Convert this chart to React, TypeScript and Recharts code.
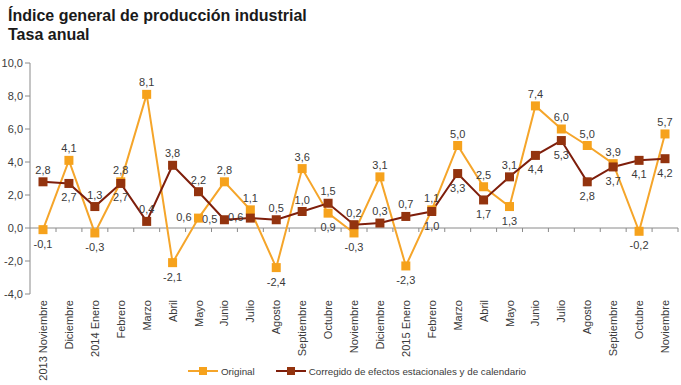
import React from 'react';
import {
  LineChart,
  Line,
  XAxis,
  YAxis,
  ReferenceLine,
  Legend,
  LabelList,
} from 'recharts';

// Meses (eje de categorías)
const meses = [
  '2013 Noviembre', 'Diciembre', '2014 Enero', 'Febrero', 'Marzo', 'Abril',
  'Mayo', 'Junio', 'Julio', 'Agosto', 'Septiembre', 'Octubre', 'Noviembre',
  'Diciembre', '2015 Enero', 'Febrero', 'Marzo', 'Abril', 'Mayo', 'Junio',
  'Julio', 'Agosto', 'Septiembre', 'Octubre', 'Noviembre',
];

const original = [
  -0.1, 4.1, -0.3, 2.8, 8.1, -2.1, 0.6, 2.8, 1.1, -2.4, 3.6, 0.9, -0.3,
  3.1, -2.3, 1.1, 5.0, 2.5, 1.3, 7.4, 6.0, 5.0, 3.9, -0.2, 5.7,
];

const corregido = [
  2.8, 2.7, 1.3, 2.7, 0.4, 3.8, 2.2, 0.5, 0.6, 0.5, 1.0, 1.5, 0.2,
  0.3, 0.7, 1.0, 3.3, 1.7, 3.1, 4.4, 5.3, 2.8, 3.7, 4.1, 4.2,
];

const yTicks = [-4, -2, 0, 2, 4, 6, 8, 10];

// where each value label sits relative to its point (t = top, b = bottom, l = left)
const posOriginal = 'btbttblttbtbbtbtttbttttbt'.split('');
const posCorregido = 'tbtbtttllttttttbbbtbbbbbb'.split('');

const data = meses.map((mes, i) => ({
  mes,
  original: original[i],
  corregido: corregido[i],
}));

const W = 681;
const H = 385;
const M_TOP = 63;
const M_BOTTOM = 4;
const LEGEND_H = 20;
const XAXIS_H = 67;
const PLOT_H = H - M_TOP - M_BOTTOM - LEGEND_H - XAXIS_H;
const ZERO_Y = M_TOP + (PLOT_H * 10) / 14;

const ORANGE = '#F6A21C';
const ORANGE_LINE = '#F5A52A';
const BROWN = '#93330E';
const BROWN_LINE = '#7E1E0B';
const AXIS = '#8a8a8a';
const TEXT = '#3a3a3a';
const FONT = '"Liberation Sans", Arial, sans-serif';

const fmt = (v: number) => v.toFixed(1).replace('.', ',');

const Square = (color: string) => (props: any) => {
  const { cx, cy, index } = props;
  if (cx == null || cy == null) return null;
  return <rect key={index} x={cx - 4.5} y={cy - 4.5} width={9} height={9} fill={color} />;
};

const makeLabel = (pos: string[]) => (props: any) => {
  const { x, y, value, index } = props;
  const p = pos[index];
  let tx = x;
  let ty = y - 8;
  let anchor: 'middle' | 'end' = 'middle';
  if (p === 'b') ty = y + 18;
  if (p === 'l') {
    tx = x - 7;
    ty = y + 3;
    anchor = 'end';
  }
  return (
    <text x={tx} y={ty} textAnchor={anchor} fontSize={11} fill={TEXT} fontFamily={FONT}>
      {fmt(value)}
    </text>
  );
};

const MonthTick = (props: any) => {
  const { x, y, payload } = props;
  const half = 13;
  return (
    <g>
      <line x1={x + half} y1={ZERO_Y} x2={x + half} y2={ZERO_Y + 4} stroke={AXIS} />
      <text
        x={x}
        y={y}
        dy={4}
        transform={`rotate(-90 ${x} ${y})`}
        textAnchor="end"
        fontSize={11}
        fill={TEXT}
        fontFamily={FONT}
      >
        {payload.value}
      </text>
    </g>
  );
};

const LegendIcon = ({ line, fill }: { line: string; fill: string }) => (
  <svg width={30} height={10} style={{ marginRight: 3 }}>
    <line x1={0} y1={5} x2={30} y2={5} stroke={line} strokeWidth={2} />
    <rect x={11} y={1} width={8} height={8} fill={fill} />
  </svg>
);

const renderLegend = () => (
  <div
    style={{
      display: 'flex',
      justifyContent: 'center',
      alignItems: 'center',
      paddingLeft: 36,
      fontFamily: FONT,
      fontSize: 9.8,
      color: TEXT,
      height: LEGEND_H,
    }}
  >
    <LegendIcon line={ORANGE_LINE} fill={ORANGE} />
    <span style={{ marginRight: 21 }}>Original</span>
    <LegendIcon line={BROWN_LINE} fill={BROWN} />
    <span>Corregido de efectos estacionales y de calendario</span>
  </div>
);

export default function App() {
  return (
    <div style={{ position: 'absolute', left: 0, top: 0, width: W, height: H, background: '#fff' }}>
      <div
        style={{
          position: 'absolute',
          left: 8,
          top: 6,
          fontFamily: FONT,
          fontWeight: 'bold',
          fontSize: 16,
          lineHeight: '19px',
          color: '#1a1a1a',
        }}
      >
        <div>Índice general de producción industrial</div>
        <div>Tasa anual</div>
      </div>
      <LineChart
        width={W}
        height={H}
        data={data}
        margin={{ top: M_TOP, right: 3, bottom: M_BOTTOM, left: 0 }}
      >
        <ReferenceLine y={0} stroke={AXIS} strokeWidth={1} />
        <XAxis
          dataKey="mes"
          interval={0}
          height={XAXIS_H}
          padding={{ left: 13, right: 13 }}
          axisLine={false}
          tickLine={false}
          tickSize={0}
          tickMargin={6}
          tick={<MonthTick />}
        />
        <YAxis
          domain={[-4, 10]}
          ticks={yTicks}
          width={30}
          tickSize={5}
          tickMargin={2}
          tickFormatter={fmt}
          axisLine={{ stroke: AXIS }}
          tickLine={{ stroke: AXIS }}
          tick={{ fontSize: 11, fill: TEXT, fontFamily: FONT }}
        />
        <Legend verticalAlign="bottom" height={LEGEND_H} content={renderLegend} />
        <Line
          dataKey="original"
          name="Original"
          stroke={ORANGE_LINE}
          strokeWidth={2}
          dot={Square(ORANGE)}
          activeDot={false}
          isAnimationActive={false}
        >
          <LabelList dataKey="original" content={makeLabel(posOriginal)} />
        </Line>
        <Line
          dataKey="corregido"
          name="Corregido de efectos estacionales y de calendario"
          stroke={BROWN_LINE}
          strokeWidth={2}
          dot={Square(BROWN)}
          activeDot={false}
          isAnimationActive={false}
        >
          <LabelList dataKey="corregido" content={makeLabel(posCorregido)} />
        </Line>
      </LineChart>
    </div>
  );
}
